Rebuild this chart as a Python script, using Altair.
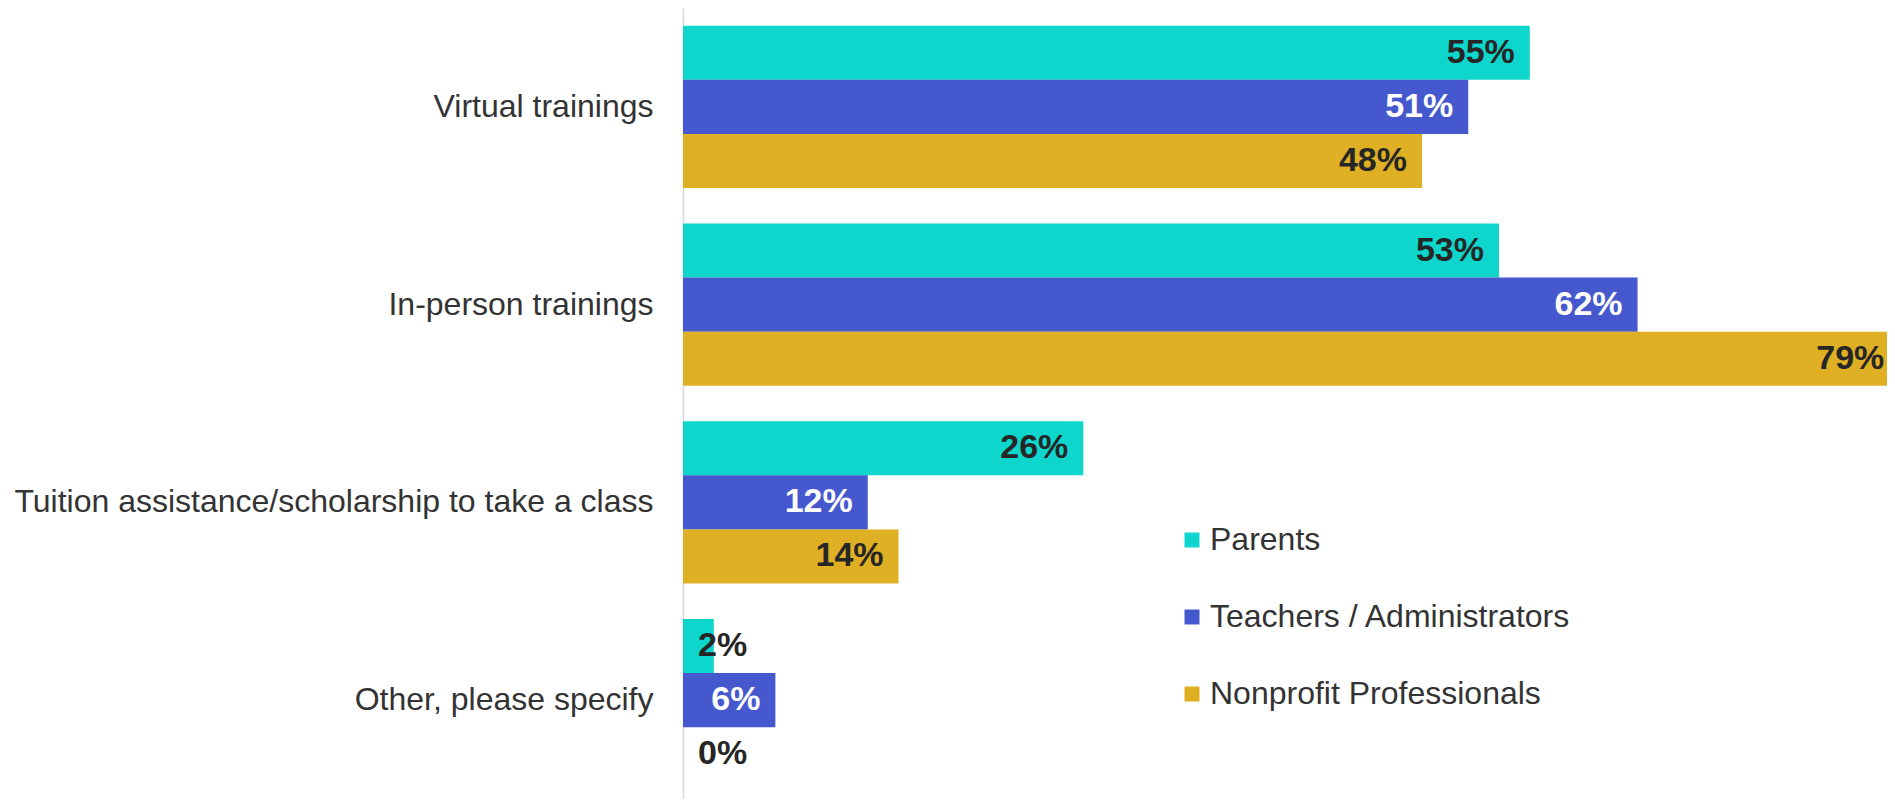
import altair as alt
import pandas as pd

categories = ["Virtual trainings", "In-person trainings",
              "Tuition assistance/scholarship to take a class", "Other, please specify"]
groups = ["Parents", "Teachers / Administrators", "Nonprofit Professionals"]
parents = [55, 53, 26, 2]
teachers = [51, 62, 12, 6]
nonprofit = [48, 79, 14, 0]
colors = ["#0FD6CC", "#4658CE", "#E0B024"]
label_colors = ["#262626", "#FFFFFF", "#262626"]

rows = []
for gi, (g, vals) in enumerate(zip(groups, [parents, teachers, nonprofit])):
    for c, v in zip(categories, vals):
        rows.append({"category": c, "group": g, "value": v, "label": f"{v}%",
                     "inside": v >= 4, "tcolor": label_colors[gi], "zero": 0})
df = pd.DataFrame(rows)

FONT = "Liberation Sans"

y_enc = alt.Y("category:N", sort=categories,
              scale=alt.Scale(paddingInner=0.18, paddingOuter=0.09),
              axis=alt.Axis(title=None, labelFontSize=32, labelFont=FONT, labelColor="#333333",
                            ticks=False, domainColor="#D9D9D9", domainWidth=1.5,
                            labelPadding=30, labelLimit=900))
yoff = alt.YOffset("group:N", sort=groups)
xscale = alt.Scale(domain=[0, 78.2])

base = alt.Chart(df)

bars = base.mark_bar(clip=True).encode(
    x=alt.X("value:Q", scale=xscale, axis=None),
    y=y_enc,
    yOffset=yoff,
    color=alt.Color("group:N", scale=alt.Scale(domain=groups, range=colors),
                    legend=alt.Legend(title=None, orient="none", legendX=493, legendY=516,
                                      symbolType="square", symbolSize=225, symbolStrokeWidth=0,
                                      labelFontSize=32, labelFont=FONT, labelColor="#333333",
                                      labelOffset=2, rowPadding=45, padding=0, labelLimit=900)),
)

txt_in = base.transform_filter("datum.inside").mark_text(
    align="right", baseline="middle", dx=-15, fontSize=34, fontWeight="bold", font=FONT
).encode(
    x=alt.X("value:Q", scale=xscale),
    y=y_enc,
    yOffset=yoff,
    text="label:N",
    color=alt.Color("tcolor:N", scale=None),
)

txt_out = base.transform_filter("!datum.inside").mark_text(
    align="left", baseline="middle", dx=15, fontSize=34, fontWeight="bold", font=FONT
).encode(
    x=alt.X("zero:Q", scale=xscale),
    y=y_enc,
    yOffset=yoff,
    text="label:N",
    color=alt.Color("tcolor:N", scale=None),
)

chart = alt.layer(bars, txt_in, txt_out).properties(
    width=1204, height=791,
    autosize=alt.AutoSizeParams(type="none"),
    padding={"left": 675, "top": 0, "right": 0, "bottom": 0},
).configure(font=FONT).configure_view(stroke=None, strokeWidth=0)

chart.save("out.html", embed_options={"renderer": "svg", "actions": False})
